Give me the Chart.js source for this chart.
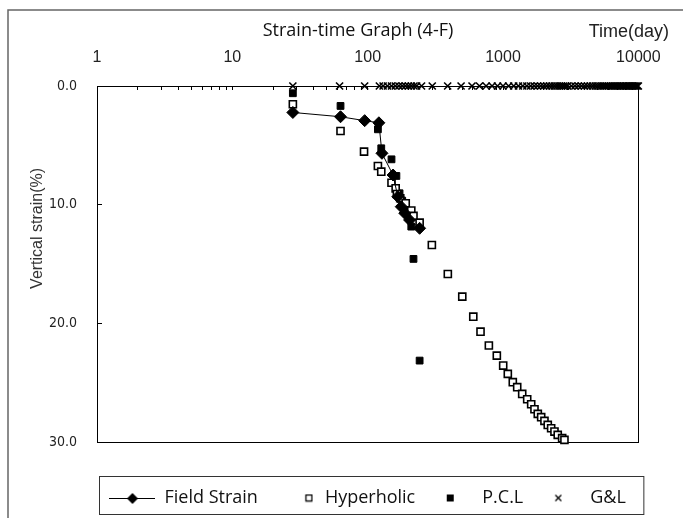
<!DOCTYPE html>
<html><head><meta charset="utf-8">
<script src="https://cdn.jsdelivr.net/npm/chart.js@4.4.1/dist/chart.umd.min.js"></script>
<style>html,body{margin:0;padding:0;background:#fff;overflow:hidden}canvas{display:block}</style>
</head><body>
<canvas id="c" width="683" height="518"></canvas>
<script>
// ---- texts ----
const chartTitle = 'Strain-time Graph (4-F)';
const xAxisTitle = 'Time(day)';
const yAxisTitle = 'Vertical strain(%)';
const seriesNames = ['Field Strain', 'Hyperholic', 'P.C.L', 'G&L'];

// ---- tick labels ----
const xTickValues = [1, 10, 100, 1000, 10000];
const xTickLabels = ['1', '10', '100', '1000', '10000'];
const xMinorMultipliers = [1, 2, 3, 4, 5, 6, 7, 8, 9];
const yTickValues = [0, 10, 20, 30];
const yTickLabels = ['0.0', '10.0', '20.0', '30.0'];

// ---- series: time (day) / vertical strain (%) ----
const fieldT = [28, 63, 95, 121, 127.5, 154, 167, 177, 188, 204, 242];
const fieldY = [2.23, 2.59, 2.92, 3.1, 5.67, 7.5, 9.33, 10.17, 10.72, 11.29, 11.99];

const hyperT = [28, 63, 94, 119, 126, 150, 161, 164.5, 174, 191, 210, 218, 242, 298, 391, 500, 603, 682, 786, 900,
  1003, 1085, 1181, 1273, 1386, 1509, 1615, 1708, 1807, 1914, 2024, 2141, 2268, 2400, 2537, 2735, 2844];
const hyperY = [1.54, 3.79, 5.53, 6.74, 7.22, 8.15, 8.62, 9.1, 9.46, 9.88, 10.5, 10.95, 11.52, 13.4, 15.84, 17.75, 19.44, 20.7, 21.87, 22.72,
  23.56, 24.26, 24.96, 25.38, 25.95, 26.4, 26.82, 27.24, 27.63, 27.91, 28.22, 28.56, 28.84, 29.12, 29.4, 29.68, 29.82];

const pclT = [28, 63, 119, 126, 150, 163, 172, 180, 193, 210, 218, 242];
const pclY = [0.61, 1.68, 3.65, 5.25, 6.18, 7.58, 9.04, 9.66, 10.45, 11.85, 14.57, 23.14];

const glT = [28, 62, 95, 122, 130, 140, 150, 160, 170, 180, 190, 200, 210, 220, 230, 250, 300, 390, 490, 590,
  670, 750, 830, 910, 1000, 1100, 1200, 1300, 1400, 1500, 1600, 1700, 1800, 1900, 2000, 2100, 2200, 2300, 2400, 2500,
  2600, 2700, 2800, 2900, 3000, 3200, 3400, 3600, 3800, 4000, 4200, 4400, 4600, 4800, 5000, 5200, 5400, 5600, 5800, 6000,
  6200, 6400, 6600, 6800, 7000, 7200, 7400, 7600, 7800, 8000, 8200, 8400, 8600, 8800, 9000, 9200, 9400, 9600, 9800, 10000];
const glY = [0, 0, 0, 0, 0, 0, 0, 0, 0, 0, 0, 0, 0, 0, 0, 0, 0, 0, 0, 0,
  0, 0, 0, 0, 0, 0, 0, 0, 0, 0, 0, 0, 0, 0, 0, 0, 0, 0, 0, 0,
  0, 0, 0, 0, 0, 0, 0, 0, 0, 0, 0, 0, 0, 0, 0, 0, 0, 0, 0, 0,
  0, 0, 0, 0, 0, 0, 0, 0, 0, 0, 0, 0, 0, 0, 0, 0, 0, 0, 0, 0];

const pairs = (t, y) => t.map((v, i) => ({x: v, y: y[i]}));

// all x tick marks (decade * 1..9, plus last decade)
const xAllTicks = [];
xTickValues.slice(0, -1).forEach(d => xMinorMultipliers.forEach(m => xAllTicks.push(d * m)));
xAllTicks.push(xTickValues[xTickValues.length - 1]);

// ---- legend symbols ----
function sym(w, h, draw) {
  const c = document.createElement('canvas');
  c.width = w; c.height = h;
  const g = c.getContext('2d');
  g.strokeStyle = '#000'; g.fillStyle = '#000';
  draw(g);
  return c;
}
const legendSymbols = [
  sym(46, 14, g => {
    g.lineWidth = 1; g.beginPath(); g.moveTo(0, 7.5); g.lineTo(46, 7.5); g.stroke();
    g.beginPath(); g.moveTo(23, 2); g.lineTo(28.5, 7.5); g.lineTo(23, 13); g.lineTo(17.5, 7.5); g.closePath(); g.fill();
  }),
  sym(41, 9, g => { g.fillStyle = '#fff'; g.fillRect(33, 1, 7, 7); g.lineWidth = 1.3; g.strokeRect(33.5, 1.5, 6, 6); }),
  sym(9, 9, g => { g.fillRect(1, 1, 7, 7); }),
  sym(9, 9, g => { g.lineWidth = 1.3; g.beginPath(); g.moveTo(1.5, 1.5); g.lineTo(7.5, 7.5); g.moveTo(7.5, 1.5); g.lineTo(1.5, 7.5); g.stroke(); })
];

const frameBg = {
  id: 'frameBg',
  beforeDraw(chart) {
    const ctx = chart.ctx;
    ctx.save();
    ctx.fillStyle = '#fff';
    ctx.fillRect(0, 0, chart.width, chart.height);
    ctx.strokeStyle = '#666';
    ctx.lineWidth = 1.5;
    ctx.beginPath();
    ctx.moveTo(8, chart.height);
    ctx.lineTo(8, 10);
    ctx.lineTo(chart.width, 10);
    ctx.stroke();
    ctx.restore();
  },
  afterDraw(chart) {
    const L = chart.legend, ctx = chart.ctx;
    ctx.save();
    ctx.strokeStyle = '#333';
    ctx.lineWidth = 1;
    ctx.strokeRect(L.left + 2.5, L.top - 0.5, L.width + 3, L.height - 2);
    ctx.restore();
  }
};

const tickFont = {family: '"Liberation Sans", Arial, sans-serif', size: 16};
const yTickFont = {family: '"Liberation Sans Narrow", "DejaVu Sans Condensed", "Liberation Sans", sans-serif', size: 14};

new Chart(document.getElementById('c'), {
  type: 'scatter',
  data: {
    datasets: [
      {label: seriesNames[0], data: pairs(fieldT, fieldY), showLine: true, borderColor: '#000', borderWidth: 1,
        pointStyle: 'rectRot', pointRadius: 6, pointBackgroundColor: '#000', pointBorderColor: '#000', pointBorderWidth: 1,
        clip: false, xAxisID: 'x', yAxisID: 'y'},
      {label: seriesNames[1], data: pairs(hyperT, hyperY), showLine: false,
        pointStyle: 'rect', pointRadius: 5, pointBackgroundColor: '#fff', pointBorderColor: '#000', pointBorderWidth: 1.6,
        clip: false, xAxisID: 'x', yAxisID: 'y'},
      {label: seriesNames[2], data: pairs(pclT, pclY), showLine: false,
        pointStyle: 'rect', pointRadius: 4.8, pointBackgroundColor: '#000', pointBorderColor: '#000', pointBorderWidth: 1,
        clip: false, xAxisID: 'x', yAxisID: 'y'},
      {label: seriesNames[3], data: pairs(glT, glY), showLine: false,
        pointStyle: 'crossRot', pointRadius: 5, pointBorderColor: '#000', pointBorderWidth: 1.6,
        clip: false, xAxisID: 'x', yAxisID: 'y'}
    ]
  },
  options: {
    responsive: false,
    animation: false,
    events: [],
    layout: {padding: {top: 0, left: 47, right: 14, bottom: 1}},
    plugins: {
      title: {display: true, text: chartTitle, color: '#111',
        font: {family: '"Open Sans", sans-serif', size: 18, weight: 'normal'}, padding: {top: 20, bottom: 0}},
      subtitle: {display: true, text: xAxisTitle, align: 'end', color: '#222',
        font: {family: '"Liberation Sans", Arial, sans-serif', size: 18}, padding: {top: -20.4, bottom: 0}},
      legend: {
        display: true, position: 'bottom', fullSize: false,
        labels: {
          usePointStyle: true, pointStyleWidth: 46, padding: 12, color: '#111',
          font: {family: '"Open Sans", sans-serif', size: 18},
          generateLabels: () => seriesNames.map((n, i) => ({
            text: n, pointStyle: legendSymbols[i], fillStyle: '#000', strokeStyle: '#000',
            lineWidth: 0, hidden: false, datasetIndex: i, fontColor: '#111'
          }))
        }
      },
      tooltip: {enabled: false}
    },
    scales: {
      x: {
        type: 'logarithmic', position: 'top', min: 1, max: 10000,
        afterBuildTicks: s => { s.ticks = xAllTicks.map(v => ({value: v})); },
        afterFit: s => { s.height = 43.2; },
        ticks: {autoSkip: false, maxRotation: 0, minRotation: 0, padding: 22.4, font: tickFont, color: '#222',
          callback: v => { const i = xTickValues.indexOf(v); return i >= 0 ? xTickLabels[i] : ''; }},
        grid: {display: true, drawOnChartArea: false, drawTicks: true, tickLength: -4, color: '#000', lineWidth: 1},
        border: {display: true, color: '#000', width: 1}
      },
      x2: {
        type: 'logarithmic', position: 'bottom', min: 1, max: 10000,
        afterFit: s => { s.height = 35; },
        ticks: {display: false}, grid: {display: false},
        border: {display: true, color: '#000', width: 1}
      },
      y: {
        type: 'linear', position: 'left', reverse: true, min: 0, max: 30,
        afterBuildTicks: s => { s.ticks = yTickValues.map(v => ({value: v})); },
        afterFit: s => { s.width = 50; },
        ticks: {padding: 25, font: yTickFont, color: '#222',
          callback: v => { const i = yTickValues.indexOf(v); return i >= 0 ? yTickLabels[i] : ''; }},
        grid: {display: true, drawOnChartArea: false, drawTicks: true, tickLength: -5, color: '#000', lineWidth: 1},
        border: {display: true, color: '#000', width: 1},
        title: {display: true, text: ' '.repeat(16) + yAxisTitle, color: '#333',
          font: {family: '"Liberation Sans", Arial, sans-serif', size: 16}, padding: {top: -19, bottom: 0}}
      },
      y2: {
        type: 'linear', position: 'right', reverse: true, min: 0, max: 30,
        afterFit: s => { s.width = 30; },
        ticks: {display: false}, grid: {display: false},
        border: {display: true, color: '#000', width: 1}
      }
    }
  },
  plugins: [frameBg]
});
</script>
</body></html>
